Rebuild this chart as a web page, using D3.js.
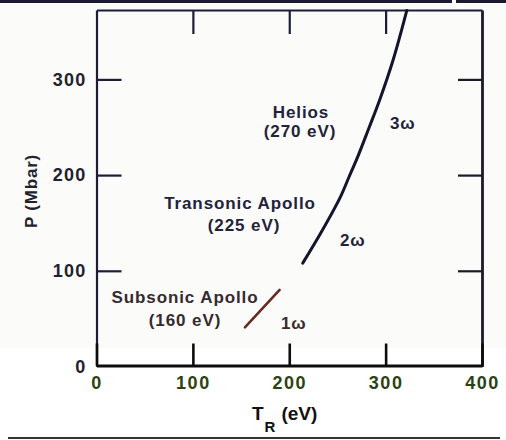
<!DOCTYPE html>
<html>
<head>
<meta charset="utf-8">
<script src="https://cdn.jsdelivr.net/npm/d3@7"></script>
<style>
  html, body { margin: 0; padding: 0; background: #ffffff; }
  svg { display: block; }
  text { font-family: "Liberation Sans", Arial, Helvetica, sans-serif; font-weight: bold; }
</style>
</head>
<body>
<svg id="chart" width="506" height="440"></svg>
<script>
// Radiation temperature T_R (eV) versus ablation pressure P (Mbar)
const xTicks = [0, 100, 200, 300, 400];
const yTicks = [0, 100, 200, 300];

// 1ω, subsonic Apollo
const omega1T = [154, 190];
const omega1P = [41, 80];

// 2ω, transonic Apollo
const omega2T = [214, 233, 253, 262];
const omega2P = [108, 140, 177, 198];

// 3ω, Helios
const omega3T = [262, 271, 283, 294, 308, 322];
const omega3P = [198, 219, 250, 279, 321, 372];

const labels = [
  { text: "Helios", x: 301, y: 118, anchor: "middle", color: "#22223a" },
  { text: "(270 eV)", x: 300, y: 137, anchor: "middle", color: "#22223a" },
  { text: "3ω", x: 390, y: 129, anchor: "start", color: "#22223a" },
  { text: "Transonic Apollo", x: 240, y: 209, anchor: "middle", color: "#22223a" },
  { text: "(225 eV)", x: 244, y: 231, anchor: "middle", color: "#22223a" },
  { text: "2ω", x: 340, y: 246, anchor: "start", color: "#22223a" },
  { text: "Subsonic Apollo", x: 185, y: 303, anchor: "middle", color: "#352a30" },
  { text: "(160 eV)", x: 185, y: 326, anchor: "middle", color: "#352a30" },
  { text: "1ω", x: 281, y: 329, anchor: "start", color: "#3a2a2a" }
];

const svg = d3.select("#chart");

// page edges of the printed figure
svg.append("rect").attr("x", 0).attr("y", 4).attr("width", 506).attr("height", 344)
  .attr("fill", "#fbfbfa");
svg.append("line").attr("x1", 0).attr("x2", 452).attr("y1", 1.5).attr("y2", 1.5)
  .attr("stroke", "#1a1a30").attr("stroke-width", 3);
svg.append("line").attr("x1", 456).attr("x2", 506).attr("y1", 1.5).attr("y2", 1.5)
  .attr("stroke", "#1a1a30").attr("stroke-width", 3);
svg.append("line").attr("x1", 8).attr("x2", 500).attr("y1", 438).attr("y2", 438)
  .attr("stroke", "#333").attr("stroke-width", 2);

const x = d3.scaleLinear().domain([0, 400]).range([96.5, 482]);
const y = d3.scaleLinear().domain([0, 372.5]).range([366.5, 10]);

const ink = "#1d1d38";

function styleAxis(g, color, width) {
  g.select(".domain").attr("stroke", color).attr("stroke-width", width);
  g.selectAll(".tick line").attr("stroke", color).attr("stroke-width", 2.2);
}

// left axis with inward ticks
const gl = svg.append("g").attr("transform", `translate(${x(0)},0)`)
  .call(d3.axisLeft(y).tickValues(yTicks).tickSize(-25).tickSizeOuter(0).tickPadding(10));
styleAxis(gl, ink, 2.2);
gl.selectAll(".tick text").attr("fill", "#22222e").attr("font-size", 18)
  .attr("letter-spacing", 1.2).attr("font-family", "Liberation Sans, Arial, sans-serif")
  .attr("font-weight", "bold");
gl.selectAll(".tick").filter(d => d === 0).select("line").remove();

// right axis
const gr = svg.append("g").attr("transform", `translate(${x(400)},0)`)
  .call(d3.axisRight(y).tickValues([100, 200, 300]).tickSize(-24).tickSizeOuter(0).tickFormat(""));
styleAxis(gr, "#1a1a2a", 2.8);

// top axis
const gt = svg.append("g").attr("transform", `translate(0,${y(372.5)})`)
  .call(d3.axisTop(x).tickValues([100, 200, 300]).tickSize(-24).tickSizeOuter(0).tickFormat(""));
styleAxis(gt, ink, 2.2);

// bottom axis
const gb = svg.append("g").attr("transform", `translate(0,${y(0) - 1})`)
  .call(d3.axisBottom(x).tickValues(xTicks).tickSize(-22).tickSizeOuter(0).tickPadding(11));
styleAxis(gb, "#0d0d0d", 3.2);
gb.selectAll(".tick line").attr("stroke", "#0d0d0d").attr("stroke-width", 2.6);
gb.selectAll(".tick text").attr("fill", "#2c4214").attr("font-size", 18)
  .attr("letter-spacing", 1.5).attr("font-family", "Liberation Sans, Arial, sans-serif")
  .attr("font-weight", "bold");

// curves
const line = d3.line()
  .x(d => x(d[0]))
  .y(d => y(d[1]))
  .curve(d3.curveCatmullRom.alpha(0.5));

const zip = (a, b) => a.map((v, i) => [v, b[i]]);

svg.append("path").datum(zip(omega1T, omega1P)).attr("d", line)
  .attr("fill", "none").attr("stroke", "#6a2a22").attr("stroke-width", 2.6)
  .attr("stroke-linecap", "round");

// 2ω and 3ω join into one continuous trace
const upper = zip(omega2T, omega2P).concat(zip(omega3T, omega3P).slice(1));
svg.append("path").datum(upper).attr("d", line)
  .attr("fill", "none").attr("stroke", "#14142e").attr("stroke-width", 3)
  .attr("stroke-linecap", "round");

// annotations
svg.selectAll("text.note").data(labels).join("text")
  .attr("class", "note")
  .attr("x", d => d.x).attr("y", d => d.y)
  .attr("text-anchor", d => d.anchor)
  .attr("fill", d => d.color)
  .attr("font-size", 17)
  .attr("letter-spacing", 0.9)
  .text(d => d.text);

// axis titles
svg.append("text")
  .attr("transform", "translate(37,191) rotate(-90)")
  .attr("text-anchor", "middle")
  .attr("fill", "#22222e")
  .attr("font-size", 17)
  .attr("letter-spacing", 0.8)
  .text("P (Mbar)");

const xt = svg.append("text").attr("x", 252).attr("y", 420).attr("fill", "#111").attr("font-size", 19);
xt.append("tspan").text("T");
xt.append("tspan").attr("font-size", 15).attr("dy", 12).attr("dx", 1).text("R");
xt.append("tspan").attr("dy", -12).attr("dx", 6).text("(eV)");
</script>
</body>
</html>
